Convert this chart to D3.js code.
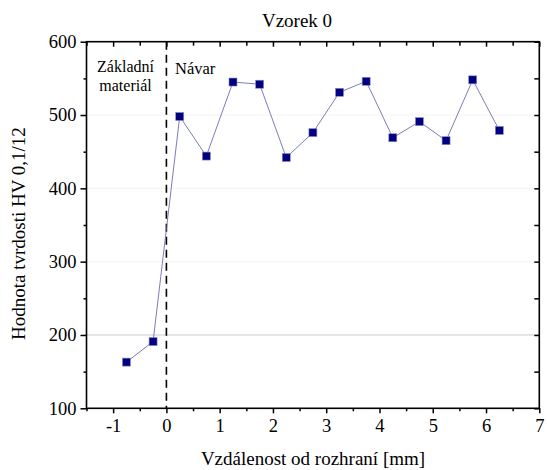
<!DOCTYPE html>
<html>
<head>
<meta charset="utf-8">
<script src="https://cdn.jsdelivr.net/npm/d3@7/dist/d3.min.js"></script>
<style>
  body { margin: 0; background: #fff; }
</style>
</head>
<body>
<div id="chart"></div>
<script>
// measured distance from the interface [mm] and hardness HV 0,1/12
const distances = [-0.75, -0.25, 0.25, 0.75, 1.25, 1.75, 2.25, 2.75, 3.25, 3.75, 4.25, 4.75, 5.25, 5.75, 6.25];
const hardness = [163, 191, 498, 444, 545, 542, 442, 476, 531, 546, 469, 491, 465, 548, 479];

const xTicks = [-1, 0, 1, 2, 3, 4, 5, 6, 7];
const yTicks = [100, 200, 300, 400, 500, 600];
const gridValues = [200, 300, 400, 500];

const chartTitle = 'Vzorek 0';
const xTitle = 'Vzdálenost od rozhraní [mm]';
const yTitle = 'Hodnota tvrdosti HV 0,1/12';
const leftLabel = ['Základní', 'materiál'];
const rightLabel = 'Návar';

const serif = '"Liberation Serif", "Times New Roman", Times, "DejaVu Serif", serif';

let width = 547,
    height = 470;

let x = d3.scaleLinear().domain([-1.5, 7]).range([86.5, 539.3]);
let y = d3.scaleLinear().domain([100, 600]).range([408.3, 41.7]);

let svg = d3.select('#chart').append('svg')
  .attr('width', width)
  .attr('height', height)
  .attr('font-family', serif);

let points = distances.map((d, i) => ({ x: d, y: hardness[i] }));

// grid
svg.append('g').selectAll('line')
  .data(gridValues)
  .enter().append('line')
    .attr('x1', x.range()[0])
    .attr('x2', x.range()[1])
    .attr('y1', d => y(d))
    .attr('y2', d => y(d))
    .style('stroke', d => d === 200 ? '#cdcdcd' : '#f3f3f3')
    .style('stroke-width', 1);

// boundary line
svg.append('line')
  .attr('x1', x(0)).attr('x2', x(0))
  .attr('y1', y(600)).attr('y2', y(100))
  .style('stroke', '#000')
  .style('stroke-width', 1.6)
  .style('stroke-dasharray', '8,5');

// axes
let minorX = d3.range(-1.5, 7.01, 0.5).filter(v => !xTicks.includes(v));
let minorY = d3.range(150, 600, 100);

function axisGroup(axis, tx, ty) {
  let g = svg.append('g').attr('transform', `translate(${tx},${ty})`).call(axis);
  g.attr('font-family', serif);
  g.select('.domain').remove();
  g.selectAll('.tick line').style('stroke', '#000').style('stroke-width', 1.5);
  g.selectAll('.tick text').style('font-size', '18.5px').style('fill', '#000');
  return g;
}

axisGroup(d3.axisBottom(x).tickValues(xTicks).tickSize(5).tickPadding(6).tickFormat(d => String(d)), 0, y(100));
axisGroup(d3.axisBottom(x).tickValues(minorX).tickSize(3).tickFormat(''), 0, y(100));

axisGroup(d3.axisLeft(y).tickValues(yTicks).tickSize(6).tickPadding(4), x(-1.5), 0);
axisGroup(d3.axisLeft(y).tickValues(minorY).tickSize(3).tickFormat(''), x(-1.5), 0);

axisGroup(d3.axisTop(x).tickValues(xTicks).tickSize(-5).tickFormat(''), 0, y(600));
axisGroup(d3.axisTop(x).tickValues(minorX).tickSize(-4).tickFormat(''), 0, y(600));
axisGroup(d3.axisRight(y).tickValues(yTicks).tickSize(-5).tickFormat(''), x(7), 0);
axisGroup(d3.axisRight(y).tickValues(minorY).tickSize(-5).tickFormat(''), x(7), 0);

svg.append('rect')
  .attr('x', x(-1.5)).attr('y', y(600))
  .attr('width', x(7) - x(-1.5)).attr('height', y(100) - y(600))
  .style('fill', 'none')
  .style('stroke', '#000')
  .style('stroke-width', 1.6);

// data line and markers
let line = d3.line().x(d => x(d.x)).y(d => y(d.y));

svg.append('path')
  .datum(points)
  .attr('d', line)
  .style('fill', 'none')
  .style('stroke', '#5a5aa8')
  .style('stroke-width', 0.8);

svg.append('g').selectAll('rect')
  .data(points)
  .enter().append('rect')
    .attr('x', d => x(d.x) - 4)
    .attr('y', d => y(d.y) - 4)
    .attr('width', 8)
    .attr('height', 8)
    .style('fill', '#000080')
    .style('stroke', '#8c8cc0')
    .style('stroke-width', 0.6);

// labels
svg.append('text')
  .attr('x', 297).attr('y', 27)
  .attr('text-anchor', 'middle')
  .style('font-size', '19px')
  .text(chartTitle);

svg.append('text')
  .attr('x', 313).attr('y', 465)
  .attr('text-anchor', 'middle')
  .style('font-size', '19px')
  .text(xTitle);

svg.append('text')
  .attr('transform', 'translate(25,340) rotate(-90)')
  .attr('text-anchor', 'start')
  .style('font-size', '19px')
  .text(yTitle);

svg.selectAll('.left-label')
  .data(leftLabel)
  .enter().append('text')
    .attr('class', 'left-label')
    .attr('x', 125.5)
    .attr('y', (d, i) => 72 + i * 19)
    .attr('text-anchor', 'middle')
    .style('font-size', '16px')
    .text(d => d);

svg.append('text')
  .attr('x', 175).attr('y', 74)
  .style('font-size', '16.5px')
  .text(rightLabel);
</script>
</body>
</html>
